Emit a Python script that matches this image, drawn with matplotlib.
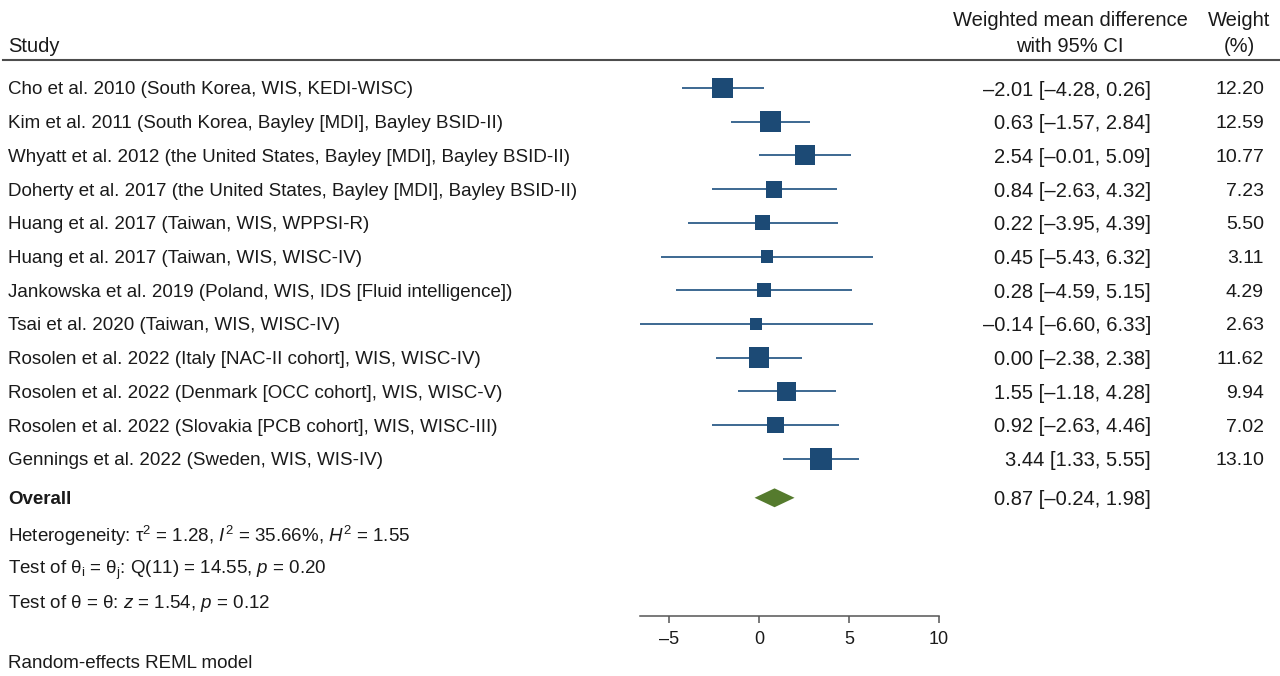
import numpy as np
import matplotlib.pyplot as plt
from matplotlib import transforms
from matplotlib.patches import Polygon

plt.rcParams['font.family'] = ['Liberation Sans', 'DejaVu Sans']
plt.rcParams['mathtext.fontset'] = 'custom'
plt.rcParams['mathtext.rm'] = 'Liberation Sans'
plt.rcParams['mathtext.it'] = 'Liberation Sans:italic'

studies = [
    'Cho et al. 2010 (South Korea, WIS, KEDI-WISC)',
    'Kim et al. 2011 (South Korea, Bayley [MDI], Bayley BSID-II)',
    'Whyatt et al. 2012 (the United States, Bayley [MDI], Bayley BSID-II)',
    'Doherty et al. 2017 (the United States, Bayley [MDI], Bayley BSID-II)',
    'Huang et al. 2017 (Taiwan, WIS, WPPSI-R)',
    'Huang et al. 2017 (Taiwan, WIS, WISC-IV)',
    'Jankowska et al. 2019 (Poland, WIS, IDS [Fluid intelligence])',
    'Tsai et al. 2020 (Taiwan, WIS, WISC-IV)',
    'Rosolen et al. 2022 (Italy [NAC-II cohort], WIS, WISC-IV)',
    'Rosolen et al. 2022 (Denmark [OCC cohort], WIS, WISC-V)',
    'Rosolen et al. 2022 (Slovakia [PCB cohort], WIS, WISC-III)',
    'Gennings et al. 2022 (Sweden, WIS, WIS-IV)',
]
wmd = [-2.01, 0.63, 2.54, 0.84, 0.22, 0.45, 0.28, -0.14, 0.00, 1.55, 0.92, 3.44]
ci_lo = [-4.28, -1.57, -0.01, -2.63, -3.95, -5.43, -4.59, -6.60, -2.38, -1.18, -2.63, 1.33]
ci_hi = [0.26, 2.84, 5.09, 4.32, 4.39, 6.32, 5.15, 6.33, 2.38, 4.28, 4.46, 5.55]
weight = [12.20, 12.59, 10.77, 7.23, 5.50, 3.11, 4.29, 2.63, 11.62, 9.94, 7.02, 13.10]

overall_est, overall_lo, overall_hi = 0.87, -0.24, 1.98

stats_lines = [
    r'Heterogeneity: τ$^2$ = 1.28, $I^2$ = 35.66%, $H^2$ = 1.55',
    r'Test of θ$_\mathrm{i}$ = θ$_\mathrm{j}$: Q(11) = 14.55, $p$ = 0.20',
    r'Test of θ = θ: $z$ = 1.54, $p$ = 0.12',
]
xticks = [-5, 0, 5, 10]

BOX = '#1c4a75'
WHISKER = '#2d5d89'
DIAMOND = '#557b2e'
TXT = '#1a1a1a'
FS_LAB = 13.5   # study names and notes
FS_NUM = 14.5   # estimate column and headers
FS_WT = 14.0
FS_TICK = 13.0


def fmt(v):
    return f'{v:.2f}'.replace('-', '\u2013')


W, H = 1280, 676
row_px = 33.7
first_px = 88
axis_px = 615.7

fig = plt.figure(figsize=(W / 100, H / 100), dpi=100)
ax = fig.add_axes([640 / W, (H - axis_px) / H, 299 / W, axis_px / H])
ax.set_xlim(-6.6, 10)
ax.set_ylim((axis_px - first_px) / row_px, -first_px / row_px)

rows = np.arange(len(studies))

# confidence intervals and weight-scaled boxes
ax.hlines(rows, ci_lo, ci_hi, color=WHISKER, lw=1.3, zorder=2)
side_pt = np.sqrt(62 + 31 * np.array(weight)) * 0.72
ax.scatter(wmd, rows, s=side_pt ** 2, marker='s', color=BOX, lw=0, zorder=3)

# pooled estimate
y_ov = 12.16
dh = 0.28
ax.add_patch(Polygon([(overall_lo, y_ov), (overall_est, y_ov - dh),
                      (overall_hi, y_ov), (overall_est, y_ov + dh)],
                     closed=True, color=DIAMOND, lw=0, zorder=3))

for s in ['top', 'left', 'right']:
    ax.spines[s].set_visible(False)
ax.spines['bottom'].set_color('#555555')
ax.spines['bottom'].set_linewidth(1.1)
ax.set_yticks([])
ax.set_xticks(xticks)
ax.set_xticklabels([str(t).replace('-', '\u2013') for t in xticks])
ax.tick_params(axis='x', direction='out', length=5, width=1.1, color='#555555',
               labelsize=FS_TICK, labelcolor=TXT, pad=6)
ax.patch.set_visible(False)

tr = transforms.blended_transform_factory(fig.transFigure, ax.transData)
x_study = 8 / W
x_ci = 1151 / W
x_wt = 1264 / W
VA = 'center_baseline'

# header
ax.text(x_study, -1.3, 'Study', transform=tr, ha='left', va=VA, fontsize=FS_NUM, color=TXT)
ax.text(1070 / W, -2.05, 'Weighted mean difference', transform=tr, ha='center', va=VA,
        fontsize=FS_NUM, color=TXT)
ax.text(1070 / W, -1.3, 'with 95% CI', transform=tr, ha='center', va=VA, fontsize=FS_NUM, color=TXT)
ax.text(1239 / W, -2.05, 'Weight', transform=tr, ha='center', va=VA, fontsize=FS_NUM, color=TXT)
ax.text(1239 / W, -1.3, '(%)', transform=tr, ha='center', va=VA, fontsize=FS_NUM, color=TXT)
ax.plot([3 / W, 1], [-0.83, -0.83], transform=tr, color='#4d4d4d', lw=1.5, clip_on=False)

for i, name in enumerate(studies):
    ax.text(x_study, i, name, transform=tr, ha='left', va=VA, fontsize=FS_LAB, color=TXT)
    ax.text(x_ci, i, f'{fmt(wmd[i])} [{fmt(ci_lo[i])}, {fmt(ci_hi[i])}]',
            transform=tr, ha='right', va=VA, fontsize=FS_NUM, color=TXT)
    ax.text(x_wt, i, f'{weight[i]:.2f}', transform=tr, ha='right', va=VA, fontsize=FS_WT, color=TXT)

ax.text(x_study, y_ov, 'Overall', transform=tr, ha='left', va=VA, fontsize=FS_LAB,
        fontweight='bold', color=TXT)
ax.text(x_ci, y_ov, f'{fmt(overall_est)} [{fmt(overall_lo)}, {fmt(overall_hi)}]',
        transform=tr, ha='right', va=VA, fontsize=FS_NUM, color=TXT)

for j, line in enumerate(stats_lines):
    ax.text(x_study, 13.2 + 1.01 * j, line, transform=tr, ha='left', va=VA,
            fontsize=FS_LAB, color=TXT)

fig.text(x_study, 1 - 662 / H, 'Random-effects REML model', ha='left', va=VA,
         fontsize=FS_LAB, color=TXT)

fig.savefig('out.png', dpi=100)
